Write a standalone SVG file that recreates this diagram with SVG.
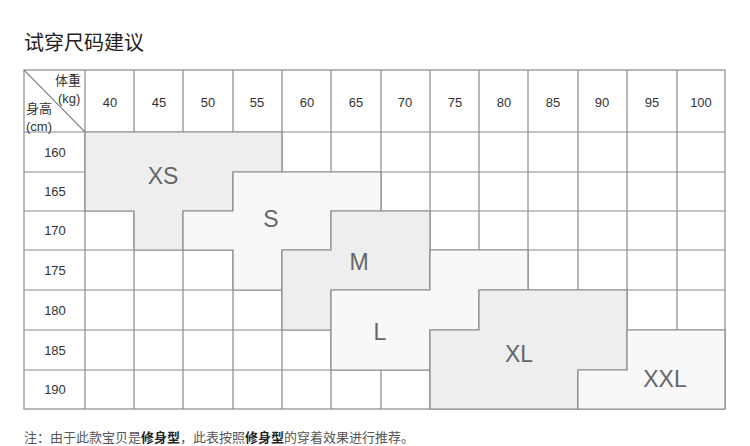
<svg xmlns="http://www.w3.org/2000/svg" width="750" height="446" viewBox="0 0 750 446">
<style>
.g{stroke:#8a8a8a;stroke-width:1.2;fill:none}
.d{fill:#eeeeee;stroke:#8a8a8a;stroke-width:1.2}
.l{fill:#f8f8f8;stroke:#8a8a8a;stroke-width:1.2}
.n{font-family:"Liberation Sans","Noto Sans CJK SC",sans-serif;font-size:13px;fill:#333;text-anchor:middle}
.h{font-family:"Liberation Sans","Noto Sans CJK SC",sans-serif;font-size:13px;fill:#333}
.s{font-family:"Liberation Sans",sans-serif;font-size:23px;fill:#666;text-anchor:middle}
</style>
<rect width="750" height="446" fill="#fff"/>
<text x="24" y="50" font-family="'Noto Sans CJK SC',sans-serif" font-size="20" fill="#222">试穿尺码建议</text>
<g id="grid">
<rect class="g" x="24" y="70" width="701" height="339"/>
<path class="g" d="M85 70V409M134 70V409M183 70V409M233 70V409M282 70V409M331 70V409M381 70V409M430 70V409M479 70V409M528 70V409M578 70V409M627 70V409M677 70V409M24 132H725M24 172H725M24 211H725M24 250H725M24 290H725M24 330H725M24 370H725M24 70L85 132"/>
</g>
<g id="header">
<text class="h" x="55" y="85">体重</text>
<text class="h" x="58" y="103">(kg)</text>
<text class="h" x="26" y="113">身高</text>
<text class="h" x="26" y="131">(cm)</text>
<text class="n" x="110" y="107">40</text><text class="n" x="159" y="107">45</text><text class="n" x="208" y="107">50</text><text class="n" x="257" y="107">55</text><text class="n" x="307" y="107">60</text><text class="n" x="356" y="107">65</text><text class="n" x="405" y="107">70</text><text class="n" x="455" y="107">75</text><text class="n" x="504" y="107">80</text><text class="n" x="553" y="107">85</text><text class="n" x="602" y="107">90</text><text class="n" x="652" y="107">95</text><text class="n" x="701" y="107">100</text>
<text class="n" x="55" y="157">160</text><text class="n" x="55" y="196">165</text><text class="n" x="55" y="235">170</text><text class="n" x="55" y="275">175</text><text class="n" x="55" y="315">180</text><text class="n" x="55" y="355">185</text><text class="n" x="55" y="394">190</text>
</g>
<g id="XS"><path class="d" d="M85 132H282V172H233V211H183V250H134V211H85Z"/><text class="s" x="163" y="184">XS</text></g>
<g id="S"><path class="l" d="M233 172H381V211H331V250H282V290H233V250H183V211H233Z"/><text class="s" x="271" y="227">S</text></g>
<g id="M"><path class="d" d="M331 211H430V290H331V330H282V250H331Z"/><text class="s" x="359" y="270">M</text></g>
<g id="L"><path class="l" d="M430 250H528V290H479V330H430V370H331V290H430Z"/><text class="s" x="380" y="340">L</text></g>
<g id="XL"><path class="d" d="M479 290H627V370H578V409H430V330H479Z"/><text class="s" x="519" y="362">XL</text></g>
<g id="XXL"><path class="l" d="M627 330H725V409H578V370H627Z"/><text class="s" x="665" y="387">XXL</text></g>
<text x="24" y="442" font-family="'Noto Sans CJK SC',sans-serif" font-size="13" fill="#555">注：由于此款宝贝是<tspan font-weight="bold" fill="#222">修身型</tspan>，此表按照<tspan font-weight="bold" fill="#222">修身型</tspan>的穿着效果进行推荐。</text>
</svg>
